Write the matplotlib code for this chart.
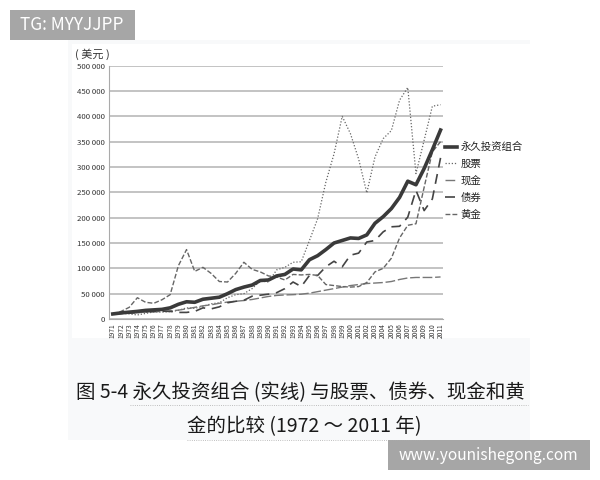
import matplotlib
matplotlib.use('Agg')
from matplotlib import pyplot as plt
from matplotlib.patches import Rectangle

plt.rcParams['font.family'] = ['Noto Sans CJK SC', 'DejaVu Sans']

years = list(range(1971, 2012))
portfolio = [10000, 12000, 13500, 15000, 17000, 18000, 19000, 22000, 29000, 34000,
             33000, 39000, 41000, 43000, 50000, 58000, 63000, 67000, 76000, 77000,
             85000, 88000, 98700, 97000, 117000, 125000, 137000, 150000, 155000, 160000,
             159000, 166000, 189000, 202000, 218000, 240000, 272000, 265000, 297000, 334000,
             373000]
stocks = [10000, 11500, 10000, 8000, 11000, 14000, 13500, 14500, 17000, 22000,
          21000, 25000, 30000, 32000, 42000, 48000, 50000, 60000, 75000, 73000,
          97000, 102000, 112000, 113000, 155000, 198000, 270000, 326000, 400000, 366000,
          316000, 249000, 320000, 356000, 372000, 432000, 457000, 287000, 353000, 420000,
          423000]
cash = [10000, 10800, 11500, 12500, 13500, 14200, 15000, 16000, 17500, 20000,
        23000, 26000, 28000, 31000, 33500, 35000, 36500, 38500, 41500, 44500,
        46500, 47500, 48000, 49000, 51000, 54000, 57000, 60000, 63000, 66000,
        68000, 70000, 71000, 72000, 74000, 78000, 81000, 82000, 82000, 82000,
        83000]
bonds = [10000, 11000, 12000, 13000, 14000, 15000, 15500, 15000, 13000, 13000,
         15000, 22000, 20000, 24000, 32000, 35000, 37000, 45000, 47000, 49000,
         52000, 60000, 73000, 64000, 86000, 86000, 103000, 114000, 103000, 126000,
         130000, 152000, 155000, 172000, 182000, 183000, 201000, 254000, 214000, 237000,
         318000]
gold = [10000, 15000, 23000, 42000, 33000, 31000, 38000, 48000, 105000, 137000,
        94000, 102000, 90000, 74000, 73000, 90000, 112000, 98000, 93000, 85000,
        83000, 77000, 88000, 87000, 88000, 86000, 68000, 66000, 64000, 63000,
        64000, 72000, 93000, 100000, 120000, 160000, 185000, 188000, 260000, 330000,
        350000]
yticks = list(range(0, 500001, 50000))
ylabels = ['0'] + [f'{v // 1000} 000' for v in yticks[1:]]

W, H = 600, 480
fig = plt.figure(figsize=(W / 100, H / 100), dpi=100, facecolor='white')

# page background, in pixels from the top left
bg = fig.add_axes([0, 0, 1, 1])
bg.set_xlim(0, W)
bg.set_ylim(H, 0)
bg.axis('off')
bg.add_patch(Rectangle((68, 40), 462, 400, color='#f8f9fa', lw=0))
bg.add_patch(Rectangle((72, 44), 458, 294, color='white', lw=0))

ax = fig.add_axes([108.7 / W, 1 - 319 / H, (443 - 108.7) / W, (319 - 65.7) / H])
ax.patch.set_alpha(0)
ax.plot(years, stocks, color='#666666', lw=0.9, ls=(0, (1, 1.5)), label='股票', zorder=3)
ax.plot(years, cash, color='#777777', lw=1.0, ls=(0, (7, 2)), label='现金', zorder=3)
ax.plot(years, bonds, color='#444444', lw=1.2, ls=(0, (6, 4)), label='债券', zorder=3)
ax.plot(years, gold, color='#666666', lw=1.0, ls=(0, (3.5, 1.5)), label='黄金', zorder=3)
ax.plot(years, portfolio, color='#3a3a3a', lw=2.6, label='永久投资组合', zorder=4)

ax.set_xlim(1970.5, 2011.3)
ax.set_ylim(0, 500000)
ax.set_yticks(yticks, ylabels, fontsize=5.6, color='#333333')
ax.set_xticks(years, [str(y) for y in years], rotation=90, fontsize=4.8, color='#333333')
ax.tick_params(axis='y', length=0, pad=3)
ax.tick_params(axis='x', length=0, pad=3)
ax.grid(axis='y', color='#b9b9b9', lw=1.2)
ax.set_axisbelow(True)
for side in ['top', 'right']:
    ax.spines[side].set_visible(False)
ax.spines['left'].set_color('#aaaaaa')
ax.spines['bottom'].set_color('#aaaaaa')

handles, labels = ax.get_legend_handles_labels()
order = [4, 0, 1, 2, 3]
ax.legend([handles[i] for i in order], [labels[i] for i in order],
          loc='upper left', bbox_to_anchor=(1.0, 0.707), frameon=False, fontsize=7.5,
          labelcolor='#222222', handlelength=1.15, handletextpad=0.3,
          labelspacing=0.65, borderpad=0, borderaxespad=0.2)

bg.text(75, 54, '( 美元 )', fontsize=8, color='#333333', ha='left', va='center')

# caption
bg.text(300, 393, '图 5-4 永久投资组合 (实线) 与股票、债券、现金和黄', fontsize=14, color='#1a1a1a',
        ha='center', va='center')
bg.text(304, 427, '金的比较 (1972 ～ 2011 年)', fontsize=14, color='#1a1a1a', ha='center', va='center')
bg.plot([130, 528], [405, 405], color='#aaaaaa', lw=0.6, ls=':')
bg.plot([187, 422], [440, 440], color='#aaaaaa', lw=0.6, ls=':')

# watermarks
bg.add_patch(Rectangle((10, 10), 125, 30, color='#a6a6a6', lw=0))
bg.text(72, 25, 'TG: MYYJJPP', fontsize=12.4, color='white', ha='center', va='center')
bg.add_patch(Rectangle((388, 440), 202, 30, color='#a6a6a6', lw=0))
bg.text(488, 455, 'www.younishegong.com', fontsize=11.2, color='white', ha='center', va='center')

fig.savefig('out.png', dpi=100)
